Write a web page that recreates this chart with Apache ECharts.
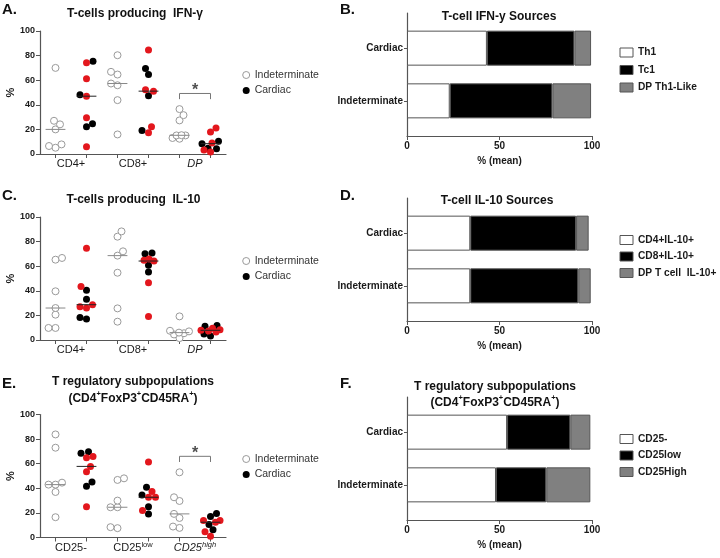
<!DOCTYPE html>
<html><head><meta charset="utf-8">
<script src="https://cdn.jsdelivr.net/npm/echarts@6/dist/echarts.min.js"></script>
<style>html,body{margin:0;padding:0;background:#fff}#c{width:720px;height:558px}</style>
</head><body><div id="c"></div>
<script>
// ---------------- DATA ----------------
// Scatter panels: one array per group (three groups per panel)
const groupsA = ['CD4+', 'CD8+', 'DP'];
const indetA = [[70.0, 27.0, 24.1, 20.0, 7.8, 5.1, 6.5], [80.3, 66.8, 64.6, 57.3, 55.9, 43.8, 15.9], [36.5, 31.6, 27.3, 15.3, 15.1, 15.1, 13.0, 12.4]];
const cardBlackA = [[75.4, 48.1, 24.6, 22.2], [69.5, 64.6, 47.3, 19.2], [8.4, 10.3, 4.3, 4.6]];
const cardRedA = [[74.1, 61.1, 47.0, 29.5, 5.9], [84.6, 51.1, 52.2, 22.2, 17.3], [21.1, 17.8, 8.9, 1.6, 3.2]];
const sigA = {group: 2, low: 44.6, high: 49.2};

const groupsC = ['CD4+', 'CD8+', 'DP'];
const indetC = [[66.7, 65.3, 39.6, 26.0, 20.6, 9.8, 9.8], [88.3, 84.0, 72.1, 68.6, 54.7, 25.7, 14.9], [19.2, 7.5, 7.0, 6.0, 5.5, 4.5, 1.5]];
const cardBlackC = [[40.4, 33.1, 17.1, 18.2], [70.2, 70.7, 60.7, 55.3], [11.7, 11.1, 4.9, 3.3]];
const cardRedC = [[74.5, 43.4, 27.1, 26.0, 28.7], [64.8, 64.2, 65.9, 46.6, 19.2], [9.5, 8.4, 7.3, 7.9, 6.5]];

const groupsE = ['CD25-', 'CD25low', 'CD25high'];
const indetE = [[83.8, 73.0, 44.6, 43.0, 43.0, 37.0, 16.5], [48.1, 46.8, 30.0, 24.6, 24.6, 7.6, 8.4], [53.0, 32.7, 29.7, 19.2, 15.9, 8.9, 7.8]];
const cardBlackE = [[69.7, 68.4, 45.1, 41.6], [40.8, 34.6, 25.1, 19.2], [17.0, 19.5, 10.5, 6.2]];
const cardRedE = [[65.9, 64.9, 53.5, 57.8, 24.9], [61.4, 37.3, 32.7, 32.7, 21.9], [13.8, 12.4, 13.8, 4.6, 1.1]];
const sigE = {group: 2, low: 61.4, high: 66.0};

// Stacked bar panels (% mean)
const barCategories = ['Indeterminate', 'Cardiac'];
const ifnSeries = ['Th1', 'Tc1', 'DP Th1-Like'];
const ifnIndet = [23.1, 55.5, 20.9];
const ifnCardiac = [43.2, 47.3, 9.0];
const il10Series = ['CD4+IL-10+', 'CD8+IL-10+', 'DP T cell  IL-10+'];
const il10Indet = [34.2, 58.4, 6.7];
const il10Cardiac = [34.2, 57.2, 6.8];
const tregSeries = ['CD25-', 'CD25low', 'CD25High'];
const tregIndet = [48.1, 27.2, 23.8];
const tregCardiac = [54.1, 34.2, 10.8];

// ---------------- STYLE / LAYOUT ----------------
const FONT = '"Liberation Sans", Arial, Helvetica, sans-serif';
const TXT = '#1a1a1a';
const AXIS = '#555';
const RED = '#e3171d';
const SC_LEFT = 40, SC_W = 186, SC_H = 123;
const BAR_LEFT = 407, BAR_W = 185, BAR_H = 123;
const X_PX = SC_W / 6, Y_PX = SC_H / 100, DOT = 7, DOT_GAP = 6.6, SWARM_HALF = 9.5;

const catRich = {
  n: {fontSize: 11, color: TXT, fontFamily: FONT, lineHeight: 14},
  i: {fontSize: 11, color: TXT, fontFamily: FONT, fontStyle: 'italic', lineHeight: 14},
  sup: {fontSize: 7.5, color: TXT, fontFamily: FONT, verticalAlign: 'top', lineHeight: 9},
  isup: {fontSize: 7.5, color: TXT, fontFamily: FONT, fontStyle: 'italic', verticalAlign: 'top', lineHeight: 9}
};
const catFormat = {'DP': '{i|DP}', 'CD25low': '{n|CD25}{sup|low}', 'CD25high': '{i|CD25}{isup|high}'};
function fmtCat(name) { return catFormat[name] || ('{n|' + name + '}'); }

function median(arr) {
  const s = arr.slice().sort((a, b) => a - b);
  const n = s.length;
  return n % 2 ? s[(n - 1) / 2] : (s[n / 2 - 1] + s[n / 2]) / 2;
}

// deterministic bounded beeswarm: nearest free offset within +-SWARM_HALF px, else least-overlapping one
function swarm(items) {
  const s = items.slice().sort((a, b) => a.v - b.v);
  const placed = [];
  const cands = [0];
  for (let k = 1; k * 0.5 <= SWARM_HALF; k++) { cands.push(k * 0.5, -k * 0.5); }
  s.forEach(it => {
    const y = it.v * Y_PX;
    let best = null, bestScore = -1;
    const flip = placed.length % 2 ? -1 : 1;
    for (const c0 of cands) {
      const c = c0 * flip;
      let mind = Infinity;
      placed.forEach(p => { mind = Math.min(mind, Math.hypot(p.x - c, p.y - y)); });
      if (mind >= DOT_GAP) { best = c; bestScore = Infinity; break; }
      if (mind > bestScore + 0.01) { bestScore = mind; best = c; }
    }
    it.dx = best / X_PX;
    placed.push({x: best, y: y});
  });
  return s;
}

const scatterPanels = [
  {groups: groupsA, indet: indetA, black: cardBlackA, red: cardRedA, sig: sigA, top: 31, legendTop: 69.5},
  {groups: groupsC, indet: indetC, black: cardBlackC, red: cardRedC, sig: null, top: 217, legendTop: 255.5},
  {groups: groupsE, indet: indetE, black: cardBlackE, red: cardRedE, sig: sigE, top: 414.5, legendTop: 453.5}
];
const barPanels = [
  {names: ifnSeries, indet: ifnIndet, cardiac: ifnCardiac, top: 13, legendTop: 47.5, legendGap: 7.5},
  {names: il10Series, indet: il10Indet, cardiac: il10Cardiac, top: 198, legendTop: 235, legendGap: 6.5},
  {names: tregSeries, indet: tregIndet, cardiac: tregCardiac, top: 397, legendTop: 434, legendGap: 6.5}
];
const barColors = ['#ffffff', '#000000', '#808080'];
const BAR_SLOTS = 8, BAR_POS = [2, 5];

const grid = [], xAxis = [], yAxis = [], series = [], legend = [];

scatterPanels.forEach((P, pi) => {
  grid.push({left: SC_LEFT, top: P.top, width: SC_W, height: SC_H});
  xAxis.push({
    gridIndex: pi, type: 'value', min: 0, max: 6,
    axisLine: {show: true, lineStyle: {color: AXIS, width: 1.2}},
    axisTick: {show: true, customValues: [0.5, 1.5, 2.5, 3.5, 4.5, 5.5], length: 4, lineStyle: {color: AXIS, width: 1}},
    axisLabel: {customValues: [1, 3, 5], margin: 3, formatter: v => fmtCat(P.groups[Math.round((v - 1) / 2)]), rich: catRich},
    splitLine: {show: false}
  });
  yAxis.push({
    gridIndex: pi, type: 'value', min: 0, max: 100, interval: 20,
    name: '%', nameLocation: 'middle', nameGap: 20,
    nameTextStyle: {fontSize: 11, fontWeight: 'bold', color: TXT, fontFamily: FONT},
    axisLine: {show: true, lineStyle: {color: AXIS, width: 1.2}},
    axisTick: {show: true, length: 4, lineStyle: {color: AXIS}},
    axisLabel: {fontSize: 9, fontWeight: 'bold', color: TXT, margin: 5, fontFamily: FONT},
    splitLine: {show: false}
  });
  const indData = [], blackData = [], redData = [], medData = [];
  P.groups.forEach((g, gi) => {
    const xi = 2 * gi + 0.5, xc = 2 * gi + 1.5;
    swarm(P.indet[gi].map(v => ({v: v}))).forEach(it => indData.push([xi + it.dx, it.v]));
    const card = P.black[gi].map(v => ({v: v, k: 'b'})).concat(P.red[gi].map(v => ({v: v, k: 'r'})));
    swarm(card).forEach(it => (it.k === 'b' ? blackData : redData).push([xc + it.dx, it.v]));
    medData.push([xi, median(P.indet[gi]), 0]);
    medData.push([xc, median(P.black[gi].concat(P.red[gi])), 1]);
  });
  series.push({
    type: 'custom', xAxisIndex: pi, yAxisIndex: pi, silent: true, z: 5, data: medData,
    renderItem: (params, api) => {
      const p1 = api.coord([api.value(0) - 0.32, api.value(1)]);
      const p2 = api.coord([api.value(0) + 0.32, api.value(1)]);
      return {type: 'line', shape: {x1: p1[0], y1: p1[1], x2: p2[0], y2: p2[1]},
        style: {stroke: api.value(2) ? '#222' : '#888', lineWidth: 1}};
    }
  });
  series.push({type: 'scatter', name: 'Indeterminate', xAxisIndex: pi, yAxisIndex: pi, symbol: 'circle', symbolSize: DOT,
    itemStyle: {color: '#ffffff', borderColor: '#9a9a9a', borderWidth: 1, opacity: 1}, data: indData, z: 3});
  series.push({type: 'scatter', name: 'Cardiac', xAxisIndex: pi, yAxisIndex: pi, symbol: 'circle', symbolSize: DOT,
    itemStyle: {color: '#000000', opacity: 1}, data: blackData, z: 3});
  series.push({type: 'scatter', name: 'Cardiac (red)', xAxisIndex: pi, yAxisIndex: pi, symbol: 'circle', symbolSize: DOT,
    itemStyle: {color: RED, opacity: 1}, data: redData, z: 3});
  if (P.sig) {
    const a = 2 * P.sig.group + 0.5, b = 2 * P.sig.group + 1.5;
    series.push({type: 'line', xAxisIndex: pi, yAxisIndex: pi, silent: true, symbol: 'none', z: 2,
      lineStyle: {color: '#777', width: 1},
      data: [[a, P.sig.low], [a, P.sig.high], [b, P.sig.high], [b, P.sig.low]]});
    series.push({type: 'scatter', xAxisIndex: pi, yAxisIndex: pi, silent: true, symbolSize: 0, z: 2,
      label: {show: true, position: 'top', distance: -5, formatter: '*', fontSize: 16, fontWeight: 'bold', color: '#222', fontFamily: FONT},
      data: [[(a + b) / 2, P.sig.high]]});
  }
  legend.push({
    data: ['Indeterminate', 'Cardiac'], orient: 'vertical', left: 242.2, top: P.legendTop, padding: 0,
    icon: 'circle', itemWidth: 7, itemHeight: 7, itemGap: 4.5, itemTextGap: 14.5, selectedMode: false,
    itemStyle: {borderWidth: 1, opacity: 1},
    textStyle: {fontSize: 10.5, color: '#333', fontFamily: FONT}
  });
});

barPanels.forEach((P, bi) => {
  const gi = 3 + bi;
  grid.push({left: BAR_LEFT, top: P.top, width: BAR_W, height: BAR_H});
  const cats = Array(BAR_SLOTS).fill('');
  barCategories.forEach((c, i) => { cats[BAR_POS[i]] = c; });
  xAxis.push({
    gridIndex: gi, type: 'value', min: 0, max: 100, interval: 50,
    name: '% (mean)', nameLocation: 'middle', nameGap: 20,
    nameTextStyle: {fontSize: 10, fontWeight: 'bold', color: TXT, fontFamily: FONT},
    axisLine: {show: true, lineStyle: {color: AXIS, width: 1.2}},
    axisTick: {show: true, length: 4, lineStyle: {color: AXIS}},
    axisLabel: {fontSize: 10, fontWeight: 'bold', color: TXT, margin: 5, fontFamily: FONT},
    splitLine: {show: false}
  });
  yAxis.push({
    gridIndex: gi, type: 'category', data: cats, boundaryGap: false,
    axisLine: {show: true, lineStyle: {color: AXIS, width: 1.2}},
    axisTick: {show: true, length: 3, interval: (i, v) => v !== '', lineStyle: {color: AXIS}},
    axisLabel: {interval: 0, fontSize: 10, fontWeight: 'bold', color: TXT, margin: 4, fontFamily: FONT},
    splitLine: {show: false}
  });
  P.names.forEach((nm, si) => {
    const d = Array(BAR_SLOTS).fill('-');
    d[BAR_POS[0]] = P.indet[si];
    d[BAR_POS[1]] = P.cardiac[si];
    series.push({type: 'bar', name: nm, stack: 'b' + bi, xAxisIndex: gi, yAxisIndex: gi, barWidth: 35,
      itemStyle: {color: barColors[si], borderColor: '#555', borderWidth: 1}, data: d});
  });
  legend.push({
    data: P.names, orient: 'vertical', left: 619.5, top: P.legendTop, padding: 0,
    icon: 'rect', itemWidth: 13, itemHeight: 9, itemGap: P.legendGap, itemTextGap: 8.5, selectedMode: false,
    itemStyle: {borderWidth: 1},
    textStyle: {fontSize: 10.2, fontWeight: 'bold', color: TXT, fontFamily: FONT}
  });
});

const letter = {fontSize: 15, fontWeight: 'bold', color: '#111', fontFamily: FONT};
const ttl = {fontSize: 12, fontWeight: 'bold', color: '#111', fontFamily: FONT};
const ttl2 = Object.assign({}, ttl, {lineHeight: 17, rich: {
  sup: {fontSize: 7.5, fontWeight: 'bold', color: '#111', fontFamily: FONT, verticalAlign: 'top', lineHeight: 10}
}});
const tregTitle = 'T regulatory subpopulations\n(CD4{sup|+}FoxP3{sup|+}CD45RA{sup|+})';

const title = [
  {text: 'A.', left: 2, top: 2.5, padding: 0, textStyle: letter},
  {text: 'B.', left: 340, top: 2.5, padding: 0, textStyle: letter},
  {text: 'C.', left: 2, top: 188, padding: 0, textStyle: letter},
  {text: 'D.', left: 340, top: 188, padding: 0, textStyle: letter},
  {text: 'E.', left: 2, top: 376, padding: 0, textStyle: letter},
  {text: 'F.', left: 340, top: 376, padding: 0, textStyle: letter},
  {text: 'T-cells producing  IFN-γ', left: 135, top: 7.2, textAlign: 'center', padding: 0, textStyle: ttl},
  {text: 'T-cell IFN-y Sources', left: 499, top: 10.2, textAlign: 'center', padding: 0, textStyle: ttl},
  {text: 'T-cells producing  IL-10', left: 133.5, top: 193.3, textAlign: 'center', padding: 0, textStyle: ttl},
  {text: 'T-cell IL-10 Sources', left: 497, top: 194.3, textAlign: 'center', padding: 0, textStyle: ttl},
  {text: tregTitle, left: 133, top: 372.7, textAlign: 'center', padding: 0, textStyle: ttl2},
  {text: tregTitle, left: 495, top: 378.2, textAlign: 'center', padding: 0, textStyle: Object.assign({}, ttl2, {lineHeight: 16})}
];

const chart = echarts.init(document.getElementById('c'), null, {renderer: 'canvas'});
chart.setOption({
  animation: false,
  backgroundColor: '#ffffff',
  textStyle: {fontFamily: FONT},
  title: title, legend: legend, grid: grid, xAxis: xAxis, yAxis: yAxis, series: series
});
</script></body></html>
